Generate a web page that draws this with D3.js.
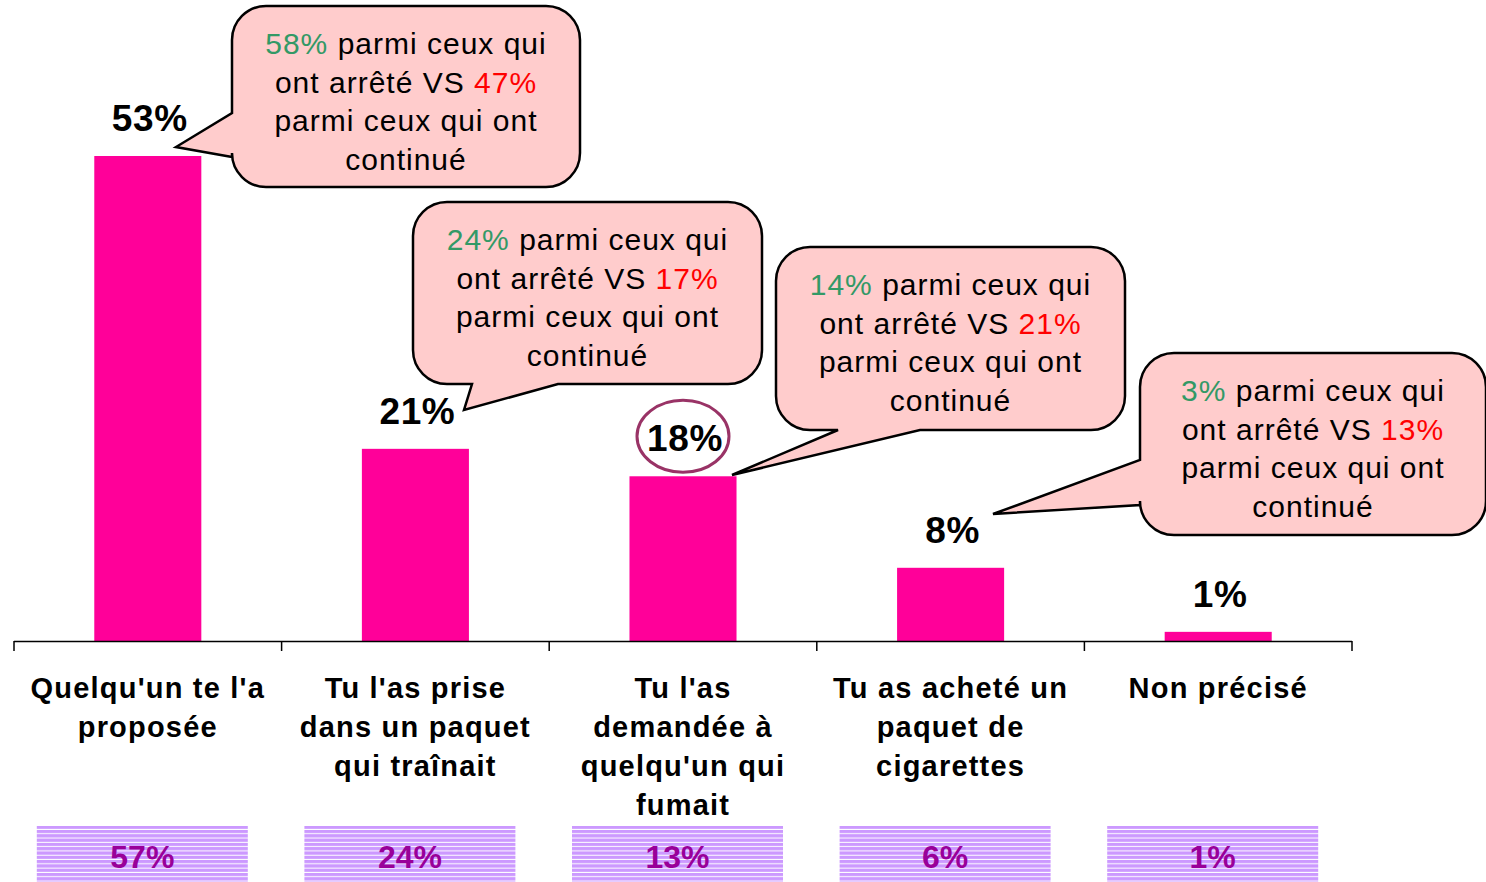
<!DOCTYPE html>
<html>
<head>
<meta charset="utf-8">
<script src="https://cdn.jsdelivr.net/npm/d3@7"></script>
<style>
  body { margin: 0; background: #fff; }
  svg { display: block; font-family: "Liberation Sans", Arial, sans-serif; }
</style>
</head>
<body>
<svg width="1486" height="882"></svg>
<script>
// data
var categories = ["Quelqu'un te l'a proposée", "Tu l'as prise dans un paquet qui traînait",
  "Tu l'as demandée à quelqu'un qui fumait", "Tu as acheté un paquet de cigarettes", "Non précisé"];
var categoryLines = [
  ["Quelqu'un te l'a", "proposée"],
  ["Tu l'as prise", "dans un paquet", "qui traînait"],
  ["Tu l'as", "demandée à", "quelqu'un qui", "fumait"],
  ["Tu as acheté un", "paquet de", "cigarettes"],
  ["Non précisé"]
];
var values = [53, 21, 18, 8, 1];
var compareValues = [57, 24, 13, 6, 1];
var stoppedValues = [58, 24, 14, 3];
var continuedValues = [47, 17, 21, 13];

var svg = d3.select("svg");

var x = d3.scaleBand().domain(categories).range([14, 1352]).padding(0);
var y = d3.scaleLinear().domain([0, 53]).range([641, 156]);
var barW = x.bandwidth() * 0.4;

// stripes for the bottom boxes
var defs = svg.append("defs");
var pat = defs.append("pattern")
  .attr("id", "stripes")
  .attr("patternUnits", "userSpaceOnUse")
  .attr("width", 10).attr("height", 4.3);
pat.append("rect").attr("width", 10).attr("height", 4.3).attr("fill", "#fff");
pat.append("rect").attr("width", 10).attr("height", 3.3).attr("fill", "#cc99ff");

// bars
svg.append("g").selectAll("rect")
  .data(values)
  .enter()
  .append("rect")
  .attr("x", function (d, i) { return x(categories[i]) + x.bandwidth() / 2 - barW / 2; })
  .attr("y", function (d) { return y(d); })
  .attr("width", barW)
  .attr("height", function (d) { return y(0) - y(d); })
  .attr("fill", "#ff0099");

// axis line + ticks
var axis = svg.append("g").attr("stroke", "#000").attr("stroke-width", 1.5);
axis.append("line")
  .attr("x1", x.range()[0]).attr("x2", x.range()[1])
  .attr("y1", y(0) + 0.5).attr("y2", y(0) + 0.5);
var tickXs = categories.map(function (c) { return x(c); }).concat([x.range()[1]]);
axis.selectAll("line.tick")
  .data(tickXs)
  .enter()
  .append("line")
  .attr("class", "tick")
  .attr("x1", function (d) { return d; }).attr("x2", function (d) { return d; })
  .attr("y1", y(0)).attr("y2", y(0) + 10);

// value labels
svg.append("g").selectAll("text")
  .data(values)
  .enter()
  .append("text")
  .attr("x", function (d, i) { return x(categories[i]) + x.bandwidth() / 2 + 2; })
  .attr("y", function (d) { return y(d) - 25; })
  .attr("text-anchor", "middle")
  .attr("font-size", 37)
  .attr("font-weight", "bold")
  .attr("letter-spacing", 0.6)
  .text(function (d) { return d + "%"; });

// category labels
var catG = svg.append("g").selectAll("text")
  .data(categoryLines)
  .enter()
  .append("text")
  .attr("text-anchor", "middle")
  .attr("font-size", 29)
  .attr("font-weight", "bold")
  .attr("letter-spacing", 1.2);
catG.selectAll("tspan")
  .data(function (d, i) { return d.map(function (l) { return { l: l, i: i }; }); })
  .enter()
  .append("tspan")
  .attr("x", function (d) { return x(categories[d.i]) + x.bandwidth() / 2; })
  .attr("y", function (d, j) { return 698 + j * 39; })
  .text(function (d) { return d.l; });

// bottom comparison boxes
var boxW = 211;
var boxes = svg.append("g").selectAll("g")
  .data(compareValues)
  .enter()
  .append("g")
  .attr("transform", function (d, i) {
    return "translate(" + (x(categories[i]) + x.bandwidth() / 2 - 5.5) + ",0)";
  });
boxes.append("rect")
  .attr("x", -boxW / 2).attr("y", 826)
  .attr("width", boxW).attr("height", 56)
  .attr("fill", "url(#stripes)");
boxes.append("text")
  .attr("text-anchor", "middle")
  .attr("y", 868)
  .attr("font-size", 32)
  .attr("font-weight", "bold")
  .attr("fill", "#990099")
  .text(function (d) { return d + "%"; });

// ellipse around 18%
svg.append("ellipse")
  .attr("cx", x(categories[2]) + x.bandwidth() / 2)
  .attr("cy", y(values[2]) - 40)
  .attr("rx", 46).attr("ry", 36)
  .attr("fill", "none")
  .attr("stroke", "#993366")
  .attr("stroke-width", 3);

// callouts
var callouts = [
  { box: [232, 6, 348, 181], side: "left", a: 157, tip: [176, 147], b: 113 },
  { box: [413, 202, 349, 182], side: "bottom", a: 558, tip: [464, 410], b: 472 },
  { box: [776, 247, 349, 183], side: "bottom", a: 920, tip: [732, 475], b: 838 },
  { box: [1140, 353, 346, 182], side: "left", a: 505, tip: [993, 514], b: 460 }
];

function calloutPath(c) {
  var bx = c.box[0], by = c.box[1], w = c.box[2], h = c.box[3], r = 34;
  var p = d3.path();
  p.moveTo(bx + r, by);
  p.lineTo(bx + w - r, by);
  p.arcTo(bx + w, by, bx + w, by + r, r);
  p.lineTo(bx + w, by + h - r);
  p.arcTo(bx + w, by + h, bx + w - r, by + h, r);
  if (c.side === "bottom") {
    p.lineTo(c.a, by + h);
    p.lineTo(c.tip[0], c.tip[1]);
    p.lineTo(c.b, by + h);
  }
  p.lineTo(bx + r, by + h);
  p.arcTo(bx, by + h, bx, by + h - r, r);
  if (c.side === "left") {
    p.lineTo(bx, c.a);
    p.lineTo(c.tip[0], c.tip[1]);
    p.lineTo(bx, c.b);
  }
  p.lineTo(bx, by + r);
  p.arcTo(bx, by, bx + r, by, r);
  p.closePath();
  return p.toString();
}

var cg = svg.append("g").selectAll("g")
  .data(callouts)
  .enter()
  .append("g");
cg.append("path")
  .attr("d", calloutPath)
  .attr("fill", "#ffcccc")
  .attr("stroke", "#000")
  .attr("stroke-width", 2.5);

cg.each(function (c, i) {
  var g = d3.select(this);
  var cx = c.box[0] + c.box[2] / 2;
  var top = c.box[1] + 48;
  var t = g.append("text")
    .attr("text-anchor", "middle")
    .attr("font-size", 30)
    .attr("letter-spacing", 1);
  var l1 = t.append("tspan").attr("x", cx).attr("y", top);
  l1.append("tspan").attr("fill", "#339966").text(stoppedValues[i] + "%");
  l1.append("tspan").text(" parmi ceux qui");
  var l2 = t.append("tspan").attr("x", cx).attr("y", top + 38.5);
  l2.append("tspan").text("ont arrêté VS ");
  l2.append("tspan").attr("fill", "#ff0000").text(continuedValues[i] + "%");
  t.append("tspan").attr("x", cx).attr("y", top + 77).text("parmi ceux qui ont");
  t.append("tspan").attr("x", cx).attr("y", top + 115.5).text("continué");
});
</script>
</body>
</html>
